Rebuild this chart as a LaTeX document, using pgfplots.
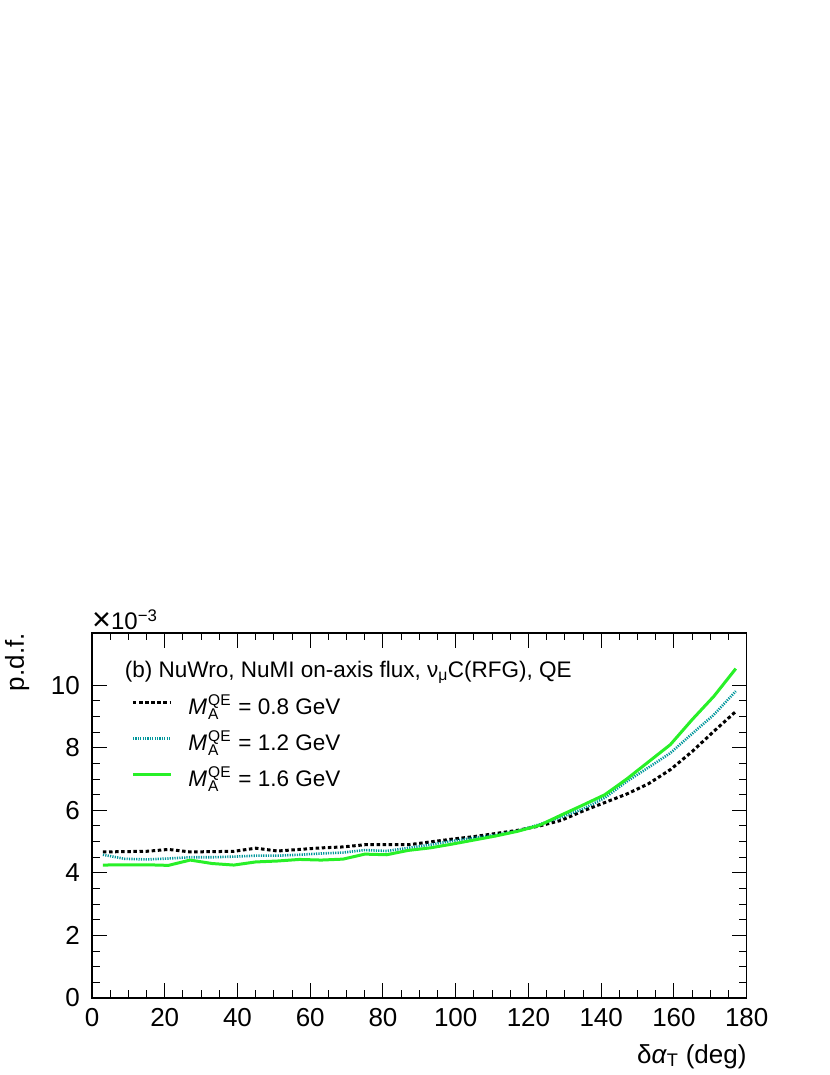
\documentclass[border=0pt]{standalone}
\usepackage{fontspec}
\setmainfont{Liberation Sans}
\usepackage{pgfplots}
\pgfplotsset{compat=1.18}
\usepackage{pgfplotstable}

\definecolor{rtteal}{RGB}{0,150,155}
\definecolor{rtgreen}{RGB}{40,240,40}

% M_A^QE with stacked super/subscript
\newcommand\MA{\textit{M}\kern1bp\makebox[24bp][l]{\rlap{\raisebox{9bp}{\fontsize{15.5bp}{16bp}\selectfont QE}}\raisebox{-5bp}{\fontsize{15.5bp}{16bp}\selectfont A}}}

% x: bin centre (deg); values in units of 1e-3
\pgfplotstableread{
x    ma08  ma12  ma16
3    4.67  4.58  4.25
9    4.68  4.45  4.26
15   4.69  4.43  4.26
21   4.75  4.46  4.24
27   4.67  4.50  4.41
33   4.68  4.50  4.30
39   4.69  4.52  4.25
45   4.79  4.55  4.35
51   4.70  4.55  4.38
57   4.75  4.58  4.43
63   4.80  4.62  4.41
69   4.83  4.65  4.44
75   4.90  4.73  4.60
81   4.90  4.70  4.58
87   4.90  4.80  4.72
93   4.99  4.90  4.80
99   5.08  5.02  4.92
105  5.16  5.12  5.05
111  5.26  5.21  5.18
117  5.36  5.34  5.33
123  5.50  5.55  5.52
129  5.68  5.78  5.85
135  5.98  6.05  6.17
141  6.25  6.40  6.50
147  6.52  6.92  7.00
153  6.85  7.37  7.55
159  7.30  7.83  8.10
165  7.88  8.45  8.90
171  8.53  9.06  9.65
177  9.16  9.81  10.53
}\pdfdata

\begin{document}
\begin{tikzpicture}
\useasboundingbox (-92bp,-77bp) rectangle (738bp,998bp);
\begin{axis}[
    at={(0,0)}, anchor=south west,
    scale only axis, width=654.7bp, height=365bp,
    clip mode=individual,
    xmin=0, xmax=180, ymin=0, ymax=11.67,
    xtick={0,20,...,180}, ytick={0,2,...,10},
    minor x tick num=3, minor y tick num=3,
    tick align=inside, xtick pos=both, ytick pos=both,
    major tick length=15bp, minor tick length=7.5bp,
    axis line style={line width=1.1pt},
    every tick/.style={black, line width=1pt},
    /pgf/number format/assume math mode=true,
    tick label style={font=\fontsize{26bp}{30bp}\selectfont, inner sep=0pt},
    xticklabel shift=10bp, yticklabel shift=12bp,
    xlabel={δ\textit{α}\textsubscript{T} (deg)},
    xlabel style={at={(rel axis cs:1,0)}, anchor=base east, yshift=-65bp, inner sep=0pt,
        font=\fontsize{26bp}{30bp}\selectfont},
    ylabel={p.d.f.},
    ylabel style={at={([xshift=-68bp]rel axis cs:0,1)}, anchor=base east, inner sep=0pt,
        font=\fontsize{26bp}{30bp}\selectfont},
    legend style={at={(rel axis cs:0.06,0.82)}, anchor=north west, draw=none, fill=none,
        inner sep=0pt, row sep=15bp,
        font=\fontsize{22.5bp}{27bp}\selectfont,
        nodes={inner sep=0pt, text height=16bp, text depth=5bp}},
    legend cell align=left,
    legend image code/.code={\draw[#1] (0bp,7bp) -- (38bp,7bp);},
    /tikz/every odd column/.append style={column sep=16bp},
]
\addplot[black, line width=3bp, dash pattern=on 3.5bp off 2.6bp] table[x=x, y=ma08] {\pdfdata};
\addlegendentry{\MA\ = 0.8 GeV}
\addplot[rtteal, line width=2.6bp, dash pattern=on 1.2bp off 1.2bp] table[x=x, y=ma12] {\pdfdata};
\addlegendentry{\MA\ = 1.2 GeV}
\addplot[rtgreen, line width=3bp] table[x=x, y=ma16] {\pdfdata};
\addlegendentry{\MA\ = 1.6 GeV}

\node[anchor=base west, inner sep=0pt, font=\fontsize{22.5bp}{27bp}\selectfont]
    at (rel axis cs:0.05,0.879) {(b) NuWro, NuMI on-axis flux, ν\textsubscript{μ}C(RFG), QE};
\node[anchor=base west, inner sep=0pt, font=\fontsize{24bp}{28bp}\selectfont]
    at (rel axis cs:0,1) [yshift=3bp] {\raisebox{-0.5bp}{\scalebox{1.35}{×}}10\textsuperscript{−3}};
\end{axis}
\end{tikzpicture}
\end{document}
